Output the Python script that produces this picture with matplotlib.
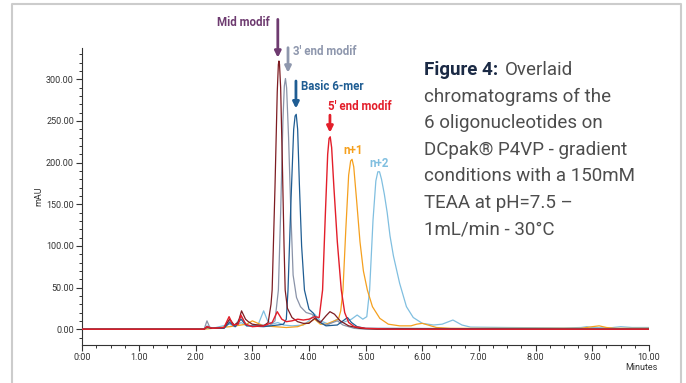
import matplotlib.pyplot as plt
from matplotlib.lines import Line2D
from matplotlib.ticker import MultipleLocator

plt.rcParams['font.family'] = 'Roboto'

# traces: time (min), absorbance (mAU)
mid_t = [0, 2.15, 2.2, 2.28, 2.5, 2.6, 2.68, 2.75, 2.81, 2.88, 2.93, 3.0, 3.1, 3.2, 3.28, 3.33, 3.35, 3.4, 3.44, 3.46, 3.47, 3.48, 3.5, 3.53, 3.56, 3.58, 3.62, 3.7, 3.8, 3.9, 4.0, 4.05, 4.1, 4.2, 4.3, 4.37, 4.45, 4.55, 4.7, 4.9, 5.2, 10]
mid_v = [0, 0, 3, 1, 2, 12, 5, 8, 22, 12, 9, 6, 5, 4, 8, 30, 47, 170, 285, 318, 322, 318, 290, 200, 100, 47, 25, 14, 9, 7, 7, 10, 13, 8, 16, 21, 18, 10, 4, 1, 0, 0]

end3_t = [0, 2.15, 2.2, 2.25, 2.5, 2.6, 2.68, 2.8, 2.9, 3.0, 3.2, 3.3, 3.4, 3.46, 3.5, 3.54, 3.565, 3.585, 3.605, 3.64, 3.68, 3.72, 3.78, 3.85, 3.95, 4.05, 4.1, 4.2, 4.3, 4.42, 4.5, 4.6, 4.8, 5.0, 10]
end3_v = [0, 0, 10, 2, 1, 10, 3, 15, 5, 4, 5, 4, 10, 47, 140, 250, 292, 301, 290, 230, 140, 65, 38, 27, 20, 18, 15, 8, 5, 8, 10, 5, 1, 0, 0]

basic_t = [0, 2.15, 2.2, 2.3, 2.5, 2.6, 2.7, 2.8, 2.9, 3.2, 3.45, 3.55, 3.6, 3.63, 3.68, 3.73, 3.755, 3.775, 3.8, 3.83, 3.87, 3.92, 4.0, 4.08, 4.15, 4.3, 4.5, 4.6, 4.68, 4.75, 4.85, 5.0, 10]
basic_v = [0, 0, 2, 1, 1, 8, 3, 12, 4, 3, 5, 6, 12, 47, 150, 240, 256, 258, 240, 175, 100, 47, 24, 19, 10, 4, 5, 10, 14, 8, 3, 1, 0]

end5_t = [0, 2.15, 2.2, 2.3, 2.5, 2.59, 2.66, 2.75, 2.8, 2.88, 3.0, 3.2, 3.35, 3.44, 3.52, 3.6, 3.7, 3.8, 3.9, 4.0, 4.1, 4.18, 4.24, 4.29, 4.33, 4.355, 4.375, 4.4, 4.44, 4.5, 4.57, 4.63, 4.7, 4.8, 5.0, 5.5, 10]
end5_v = [0, 0, 3, 1, 2, 15, 5, 6, 17, 6, 3, 4, 8, 21, 12, 9, 10, 12, 11, 12, 15, 14, 47, 140, 210, 229, 231, 218, 170, 105, 47, 20, 8, 3, 1, 0, 0]

n1_t = [0, 2.15, 2.6, 2.8, 2.9, 3.0, 3.1, 3.2, 3.4, 3.6, 3.8, 4.0, 4.1, 4.2, 4.3, 4.45, 4.52, 4.56, 4.6, 4.65, 4.7, 4.735, 4.76, 4.79, 4.84, 4.9, 4.96, 5.03, 5.12, 5.25, 5.4, 5.6, 5.8, 5.9, 6.0, 6.1, 6.25, 6.5, 8.8, 9.0, 9.12, 9.25, 9.4, 10]
n1_v = [0, 0, 3, 5, 6, 10, 7, 4, 3, 2, 3, 8, 12, 6, 6, 10, 12, 22, 47, 120, 185, 202, 204, 195, 155, 105, 70, 47, 27, 13, 6, 4, 4, 6, 7, 5, 2, 1, 1, 3, 4, 2, 1, 1]

n2_t = [0, 2.15, 2.2, 2.3, 2.6, 2.7, 2.8, 2.9, 3.1, 3.2, 3.27, 3.35, 3.45, 3.55, 3.7, 3.9, 4.0, 4.1, 4.2, 4.35, 4.5, 4.6, 4.75, 4.85, 4.95, 5.02, 5.07, 5.13, 5.18, 5.215, 5.245, 5.28, 5.33, 5.38, 5.43, 5.49, 5.6, 5.72, 5.84, 6.0, 6.2, 6.35, 6.54, 6.7, 6.85, 7.5, 8.5, 8.8, 8.9, 9.0, 9.3, 9.5, 9.7, 10]
n2_v = [0, 0, 4, 1, 6, 3, 8, 4, 5, 22, 10, 6, 8, 5, 4, 5, 10, 18, 10, 6, 12, 8, 12, 17, 12, 15, 47, 131, 178, 189, 189, 180, 162, 140, 112, 88, 55, 27, 14, 7, 5, 6, 11, 5, 2.5, 2, 1.5, 2, 3, 2, 1.5, 3, 2, 2]

x_ticks = [0, 1, 2, 3, 4, 5, 6, 7, 8, 9, 10]
x_labels = ['0:00', '1.00', '2.00', '3.00', '4.00', '5.00', '6.00', '7.00', '8.00', '9.00', '10.00']
y_ticks = [0, 50, 100, 150, 200, 250, 300]
y_labels = ['0.00', '50.00', '100.00', '150.00', '200.00', '250.00', '300.00']

c_mid, c_mid_txt = '#7d1c22', '#6e3b70'
c_3, c_3_txt = '#8a93a8', '#8e97ad'
c_basic = '#1f5d93'
c_5 = '#e31e2a'
c_n1 = '#f5a01e'
c_n2 = '#80bfe0'

fig = plt.figure(figsize=(6.86, 3.83), dpi=100)
ax = fig.add_axes([82.3/686, 1-345/383, 566.7/686, 297.3/383])

ax.plot(n2_t, n2_v, color=c_n2, lw=0.9, zorder=2)
ax.plot(n1_t, n1_v, color=c_n1, lw=0.9, zorder=3)
ax.plot(end3_t, end3_v, color=c_3, lw=0.9, zorder=4)
ax.plot(basic_t, basic_v, color=c_basic, lw=0.9, zorder=5)
ax.plot(mid_t, mid_v, color=c_mid, lw=0.9, zorder=6)
ax.plot(end5_t, end5_v, color=c_5, lw=1.0, zorder=7)

ax.set_xlim(0, 10)
ax.set_ylim(-19, 338)
ax.set_xticks(x_ticks)
ax.set_xticklabels(x_labels)
ax.set_yticks(y_ticks)
ax.set_yticklabels(y_labels)
ax.xaxis.set_minor_locator(MultipleLocator(0.25))
ax.yaxis.set_minor_locator(MultipleLocator(10))
ax.tick_params(which='major', length=4, width=0.8, labelsize=6.5, colors='#333333', pad=2)
ax.tick_params(which='minor', length=2.5, width=0.7, colors='#333333')
for s in ['top', 'right']:
    ax.spines[s].set_visible(False)
for s in ['left', 'bottom']:
    ax.spines[s].set_color('#333333')
    ax.spines[s].set_linewidth(0.8)
ax.set_ylabel('mAU', fontsize=6.5, color='#333333')
ax.yaxis.set_label_coords(-0.068, 0.5)
fig.text(658/686, 1-368/383, 'Minutes', ha='right', va='center', fontsize=6.5, color='#333333')

# peak callouts
def callout(x, y0, y1, color):
    ax.annotate('', xy=(x, y1), xytext=(x, y0), annotation_clip=False,
                arrowprops=dict(arrowstyle='-|>', color=color, lw=2, mutation_scale=9, shrinkA=0, shrinkB=0))

callout(3.45, 372, 326, c_mid_txt)
callout(3.63, 338, 308, c_3_txt)
callout(3.77, 298, 265, c_basic)
callout(4.37, 257, 236, c_5)
kw = dict(fontsize=8.3, fontweight='bold', va='center', annotation_clip=False)
ax.annotate('Mid modif', (3.31, 368), ha='right', color=c_mid_txt, **kw)
ax.annotate("3' end modif", (3.71, 333), ha='left', color=c_3_txt, **kw)
ax.annotate('Basic 6-mer', (3.857, 292), ha='left', color=c_basic, **kw)
ax.annotate("5' end modif", (4.33, 267), ha='left', color=c_5, **kw)
ax.annotate('n+1', (4.6, 214), ha='left', color=c_n1, **kw)
ax.annotate('n+2', (5.06, 199), ha='left', color=c_n2, **kw)

# caption block on the right
lines = ['chromatograms of the', '6 oligonucleotides on', 'DCpak\u00ae P4VP - gradient',
         'conditions with a 150mM', 'TEAA at pH=7.5 \u2013', '1mL/min - 30\u00b0C']
fig.text(424/686, 1-70/383, 'Figure 4:', fontsize=13.5, fontweight='bold', color='#1b2a45', va='center')
fig.text(505/686, 1-70/383, 'Overlaid', fontsize=13.5, color='#4d4d4d', va='center')
for i, s in enumerate(lines):
    fig.text(424/686, 1-(97 + i*26.4)/383, s, fontsize=13.5, color='#4d4d4d', va='center')

# frame
fig.add_artist(Line2D([12/686, 12/686, 681/686, 681/686], [0, 1-4/383, 1-4/383, 0],
                      color='#cccccc', lw=1.5, transform=fig.transFigure))

fig.savefig('out.png', dpi=100)
